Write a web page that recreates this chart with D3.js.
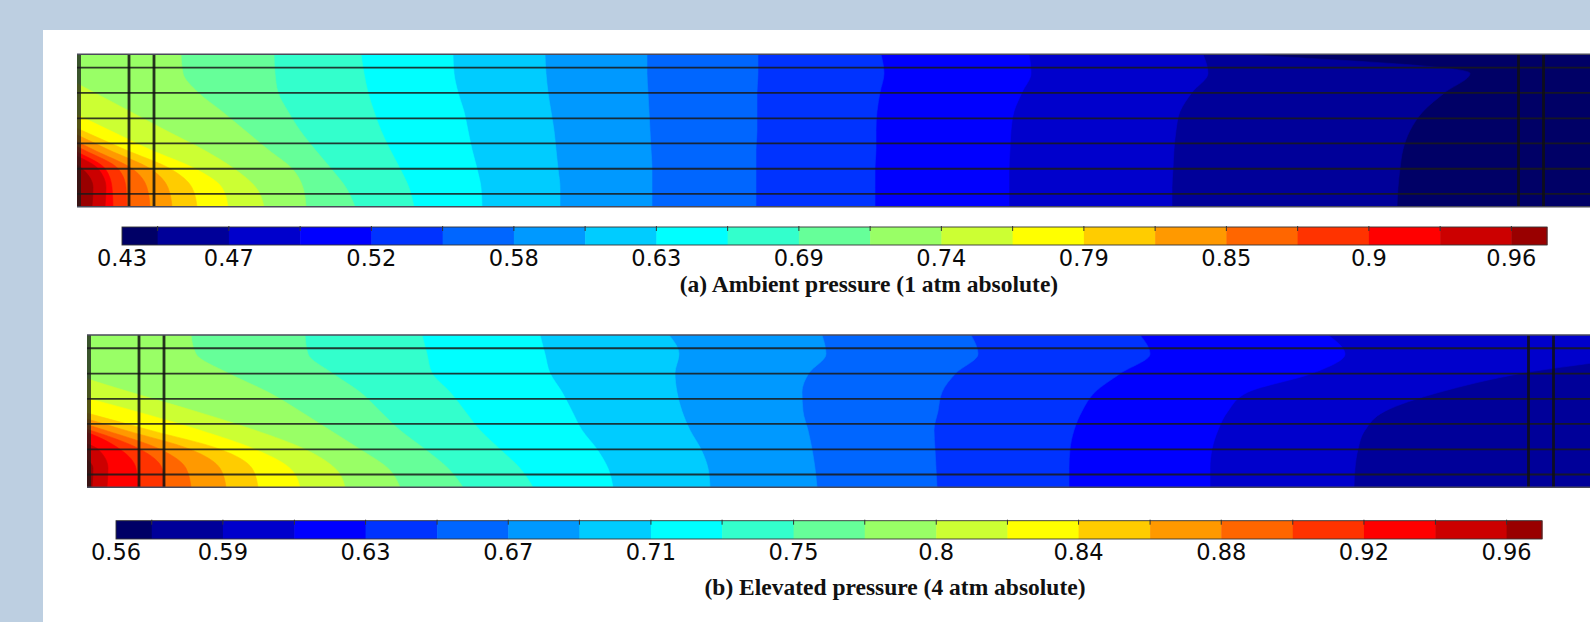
<!DOCTYPE html>
<html><head><meta charset="utf-8">
<script src="https://cdn.jsdelivr.net/npm/d3@7"></script>
<style>html,body{margin:0;padding:0;background:#bdcfe1;overflow:hidden}</style>
</head><body>
<svg id="c" width="1590" height="622"></svg>
<script>
// ---- shared ----
const bandColors = ["#000066","#000099","#0000cc","#0000ff","#0033ff","#0066ff","#0099ff","#00ccff","#00ffff","#33ffcc","#66ff99","#99ff66","#ccff33","#ffff00","#ffcc00","#ff9900","#ff6600","#ff3300","#ff0000","#cc0000","#990000"];
const ySamples = [0, 0.125, 0.25, 0.375, 0.5, 0.625, 0.75, 0.875, 1];   // fraction of channel height (top -> bottom)
const layerLines = [0.087, 0.253, 0.42, 0.584, 0.751, 0.916];
const wallLines = [5.2, 7.7, 144.15, 146.65];                         // mm along channel
const xDomain = [0, 151.3];                                            // visible length (mm)

// ---- (a) ambient pressure ----
const rangeA = [0.4272, 0.9712];
const levelsA = [0.4408,0.4680,0.4952,0.5224,0.5496,0.5768,0.6040,0.6312,0.6584,0.6856,0.7128,0.7400,0.7672,0.7944,0.8216,0.8488,0.8760,0.9032,0.9304,0.9576];
const tickValuesA = [0.4272,0.4680,0.5224,0.5768,0.6312,0.6856,0.7400,0.7944,0.8488,0.9032,0.9576];
// isoline position (mm) of each level at each ySample
const isoA = [
 [115.8,139.3,136.8,134.6,133.3,132.6,132.3,132.1,132.0],
 [112.6,113.1,111.5,110.3,109.9,109.7,109.6,109.5,109.5],
 [95.2,95.4,94.5,93.7,93.4,93.3,93.2,93.2,93.2],
 [80.4,80.7,80.3,80.0,79.9,79.9,79.8,79.8,79.8],
 [68.1,68.1,68.0,68.0,68.0,67.9,67.9,67.9,67.9],
 [57.0,57.0,57.1,57.2,57.3,57.4,57.5,57.5,57.5],
 [46.8,46.9,47.1,47.4,47.7,47.9,48.1,48.3,48.3],
 [37.6,37.7,38.1,38.7,39.1,39.5,40.0,40.4,40.5],
 [28.4,28.7,29.1,29.7,30.4,31.3,32.3,33.2,33.7],
 [19.7,19.8,20.1,21.1,22.3,23.8,25.4,26.9,27.8],
 [10.4,10.6,12.1,14.5,16.8,19.1,21.5,22.6,22.9],
 [-5.7,-2.0,1.7,5.3,8.9,12.6,15.7,17.9,18.7],
 [-12.7,-8.7,-4.7,-0.7,3.3,7.3,11.8,14.5,15.1],
 [-19.7,-15.7,-11.7,-3.7,0.5,4.8,9.3,11.5,12.0],
 [-23.7,-19.7,-15.7,-4.9,-0.9,3.1,7.3,9.1,9.5],
 [-25.7,-21.7,-17.7,-6.7,-2.2,1.6,5.5,7.0,7.3],
 [-27.7,-23.7,-19.7,-8.7,-3.5,0.6,4.1,4.9,5.0],
 [-29.7,-25.7,-21.7,-10.7,-4.7,-0.5,2.8,3.5,3.6],
 [-31.7,-27.7,-23.7,-12.7,-6.2,-1.5,2.1,2.9,2.8],
 [-33.7,-29.7,-25.7,-14.7,-9.7,-3.2,0.5,1.6,1.5]
];
const captionA = "(a) Ambient pressure (1 atm absolute)";

// ---- (b) elevated pressure ----
const rangeB = [0.5592, 0.9700];
const levelsB = [0.5695,0.5900,0.6106,0.6311,0.6517,0.6722,0.6927,0.7133,0.7338,0.7544,0.7749,0.7955,0.8160,0.8365,0.8571,0.8776,0.8982,0.9187,0.9393,0.9598];
const tickValuesB = [0.5592,0.5900,0.6311,0.6722,0.7133,0.7544,0.7955,0.8365,0.8776,0.9187,0.9598];
const isoB = [
 [180,180,180,180,180,180,180,180,180],
 [161.3,156.3,143.6,135.3,129.8,127.8,127.1,126.8,126.7],
 [124.1,125.8,122.6,116.1,114.1,113.1,112.5,112.3,112.3],
 [105.3,106.3,103.4,100.8,99.5,98.7,98.3,98.2,98.2],
 [88.4,89.1,86.9,85.5,85.1,84.7,84.8,84.9,85.0],
 [73.5,73.9,72.2,71.5,71.6,72.1,72.5,72.8,73.0],
 [58.2,59.2,58.8,59.0,59.5,60.3,61.4,62.1,62.3],
 [45.3,45.8,46.3,47.5,48.5,49.5,51.0,52.1,52.6],
 [33.5,34.0,34.5,36.3,37.8,39.3,41.3,43.3,44.6],
 [21.8,22.1,24.5,27.3,29.3,31.3,33.8,36.1,37.6],
 [10.4,10.9,14.1,18.1,21.3,24.3,27.3,30.1,31.3],
 [-11.7,-6.7,-1.7,4.3,10.8,16.8,21.8,24.8,25.8],
 [-20.7,-14.7,-8.7,-2.2,4.8,11.3,16.8,20.3,21.3],
 [-23.7,-18.7,-13.7,-7.7,-0.7,6.3,13.3,16.5,17.1],
 [-25.7,-20.7,-15.7,-9.7,-2.7,3.8,10.3,13.3,13.9],
 [-27.7,-22.7,-17.7,-11.7,-4.7,1.8,7.3,9.9,10.4],
 [-29.7,-24.7,-19.7,-13.7,-6.7,0.3,5.3,7.5,7.8],
 [-31.7,-26.7,-21.7,-15.7,-8.7,-0.7,3.3,4.9,5.1],
 [-33.7,-28.7,-23.7,-17.7,-10.7,-4.7,1.1,2.1,2.0],
 [-35.7,-30.7,-25.7,-19.7,-12.7,-6.7,-1.7,0.6,0.5]
];
const captionB = "(b) Elevated pressure (4 atm absolute)";

// ---- drawing ----
const svg = d3.select("#c");
svg.append("rect").attr("x",43).attr("y",30).attr("width",1547).attr("height",592).attr("fill","#ffffff");
const fmt = d3.format(".2~f");

function drawPanel(cfg){
  const x = d3.scaleLinear().domain(xDomain).range(cfg.xRange);
  const y = d3.scaleLinear().domain([0,1]).range(cfg.yRange);
  const clipId = "clip" + cfg.id;
  svg.append("clipPath").attr("id", clipId).append("rect")
    .attr("x", x(0)).attr("y", y(0)).attr("width", 1600 - x(0)).attr("height", y(1) - y(0));
  const field = svg.append("g").attr("clip-path", `url(#${clipId})`);
  field.append("rect").attr("x", x(0)).attr("y", y(0)).attr("width", 1600 - x(0)).attr("height", y(1) - y(0))
    .attr("fill", bandColors[0]);
  const area = d3.area().curve(d3.curveMonotoneY)
    .y((d,i) => y(ySamples[i])).x0(x(-60)).x1(d => x(d));
  cfg.iso.forEach((arr,k) => {
    field.append("path").attr("d", area(arr)).attr("fill", bandColors[k+1])
      .attr("stroke", bandColors[k+1]).attr("stroke-width", 0.6);
  });
  // layer boundaries
  layerLines.forEach(f => field.append("line")
    .attr("x1", x(0)).attr("x2", 1600).attr("y1", y(f)).attr("y2", y(f))
    .attr("stroke", "#1a1a1a").attr("stroke-opacity", 0.85).attr("stroke-width", 1.8));
  wallLines.forEach(v => field.append("line")
    .attr("x1", x(v)).attr("x2", x(v)).attr("y1", y(0)).attr("y2", y(1))
    .attr("stroke", "#111").attr("stroke-opacity", 0.85).attr("stroke-width", 2.8));
  // left boundary strip
  field.append("rect").attr("x", x(0)).attr("y", y(0)).attr("width", 4).attr("height", y(1)-y(0))
    .attr("fill", "#1a1a1a").attr("opacity", 0.75);
  // top / bottom border
  [0,1].forEach(f => svg.append("line").attr("x1", x(0)).attr("x2", 1600).attr("y1", y(f)).attr("y2", y(f))
    .attr("stroke", "#4a4a5a").attr("stroke-width", 1.4));

  // colour bar
  const cx = d3.scaleLinear().domain(cfg.range).range(cfg.barX);
  const edges = [cfg.range[0], ...cfg.levels, cfg.range[1]];
  const bar = svg.append("g");
  bandColors.forEach((c,k) => bar.append("rect")
    .attr("x", cx(edges[k])).attr("y", cfg.barY[0])
    .attr("width", cx(edges[k+1]) - cx(edges[k]) + 0.5).attr("height", cfg.barY[1] - cfg.barY[0])
    .attr("fill", c));
  bar.append("rect").attr("x", cx(cfg.range[0])).attr("y", cfg.barY[0])
    .attr("width", cx(cfg.range[1]) - cx(cfg.range[0])).attr("height", cfg.barY[1]-cfg.barY[0])
    .attr("fill", "none").attr("stroke", "#333").attr("stroke-width", 0.9);
  cfg.levels.forEach(v => bar.append("line")
    .attr("x1", cx(v)).attr("x2", cx(v)).attr("y1", cfg.barY[0]-1).attr("y2", cfg.barY[0]+4)
    .attr("stroke", "#333").attr("stroke-width", 1));
  cfg.ticks.forEach(v => bar.append("text")
    .attr("x", cx(v)).attr("y", cfg.labelY).attr("text-anchor", "middle")
    .attr("font-family", "DejaVu Sans").attr("font-size", 22.5).attr("fill", "#0a0a0a")
    .text(fmt(v)));
  svg.append("text").attr("x", cfg.caption[1]).attr("y", cfg.caption[2]).attr("text-anchor", "middle")
    .attr("font-family", "Liberation Serif").attr("font-weight", "bold").attr("font-size", 23.5).attr("fill", "#111")
    .text(cfg.caption[0]);
}

drawPanel({id:"A", xRange:[77,1590], yRange:[54.3,206.7], iso:isoA, range:rangeA, levels:levelsA, ticks:tickValuesA,
  barX:[122,1547], barY:[227,245], labelY:266, caption:[captionA, 869, 292]});
drawPanel({id:"B", xRange:[87,1600], yRange:[335,487.3], iso:isoB, range:rangeB, levels:levelsB, ticks:tickValuesB,
  barX:[116,1542], barY:[520.7,539], labelY:560, caption:[captionB, 895, 595]});
</script>
</body></html>
